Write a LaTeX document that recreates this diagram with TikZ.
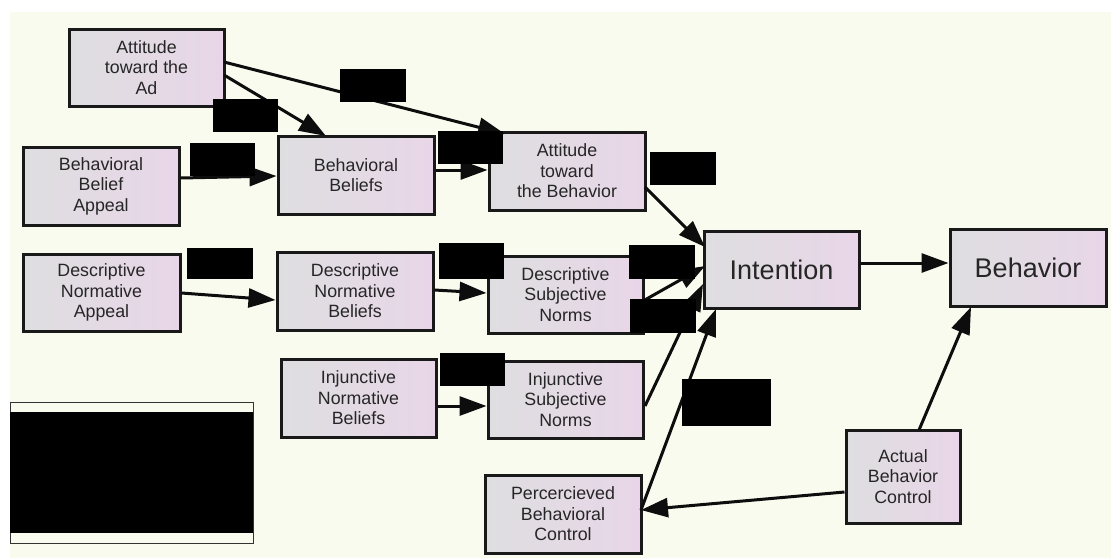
\documentclass[tikz,border=0pt]{standalone}
\usepackage{fontspec}
\setmainfont{Liberation Sans}
\usetikzlibrary{arrows.meta}
\definecolor{bgcream}{HTML}{FAFBEF}
\definecolor{boxleft}{HTML}{DEDEE0}
\definecolor{boxright}{HTML}{E8D6E8}
\definecolor{txt}{HTML}{262626}
\tikzset{
  box/.style={draw=black!90, line width=3pt, left color=boxleft, right color=boxright,
    minimum width=#1, inner sep=0pt, align=center, text=txt,
    font=\fontsize{17.8}{20.5}\selectfont},
  bigbox/.style={box=155pt, minimum height=77pt, font=\fontsize{27}{30}\selectfont},
  conn/.style={line width=3pt, draw=black!95, -{Triangle[length=27pt,width=19pt]}},
  redact/.style={fill=black, draw=none}
}
\begin{document}
\begin{tikzpicture}[x=1pt,y=-1pt]
\useasboundingbox (0,0) rectangle (1111,558);
\fill[white] (0,0) rectangle (1111,558);
\fill[bgcream] (10,12) rectangle (1111,558);

% nodes
\node[box=155pt, minimum height=77pt] (ad) at (146.5,67.5) {Attitude\\toward the\\Ad};
\node[box=156pt, minimum height=78pt] (bba) at (101,186) {Behavioral\\Belief\\Appeal};
\node[box=156pt, minimum height=78pt] (bb) at (356,175) {Behavioral\\Beliefs};
\node[box=156pt, minimum height=78pt] (atb) at (567,171) {Attitude\\toward\\the Behavior};
\node[box=157pt, minimum height=77pt] (dna) at (101.5,292.5) {Descriptive\\Normative\\Appeal};
\node[box=156pt, minimum height=78pt] (dnb) at (355,291) {Descriptive\\Normative\\Beliefs};
\node[box=155pt, minimum height=77pt] (dsn) at (565.5,294.5) {Descriptive\\Subjective\\Norms};
\node[box=155pt, minimum height=78pt] (inb) at (358.5,398) {Injunctive\\Normative\\Beliefs};
\node[box=155pt, minimum height=77pt] (isn) at (565.5,399.5) {Injunctive\\Subjective\\Norms};
\node[box=156pt, minimum height=78pt] (pbc) at (563,514) {Percercieved\\Behavioral\\Control};
\node[box=114pt, minimum height=93pt] (abc) at (903,476.5) {Actual\\Behavior\\Control};
\node[bigbox] (int) at (781.5,269.5) {Intention};
\node[bigbox, minimum width=156pt] (beh) at (1028,267.5) {Behavior};

% connector end coordinates
\coordinate (adA) at (224,75);
\coordinate (adB) at (224,62);
\coordinate (bbTop) at (326,136);
\coordinate (atbTop) at (505,134);
\coordinate (intL1) at (705,247);
\coordinate (intL2) at (705,266);
\coordinate (intL3) at (703,284);
\coordinate (intBL) at (716,309);
\coordinate (isnR) at (645,406);
\coordinate (pbcR) at (641,510);
\coordinate (abcT) at (919,430);
\coordinate (behB) at (971,307);
\coordinate (atbR) at (645,187);
\coordinate (dsnR) at (643,301);

% connectors
\draw[conn] (adA) -- (bbTop);
\draw[conn] (adB) -- (atbTop);
\draw[conn] (bba.east |- 0,178) -- (bb.west |- 0,176);
\draw[conn] (bb.east |- 0,170) -- (atb.west |- 0,170);
\draw[conn] (atbR) -- (intL1);
\draw[conn] (dna.east |- 0,293) -- (dnb.west |- 0,300);
\draw[conn] (dnb.east |- 0,290) -- (dsn.west |- 0,293);
\draw[conn] (dsnR) -- (intL2);
\draw[conn] (inb.east |- 0,406) -- (isn.west |- 0,406);
\draw[conn] (isnR) -- (intL3);
\draw[conn] (pbcR) -- (intBL);
\draw[conn] (abc.west |- 0,492) -- (pbcR);
\draw[conn] (abcT) -- (behB);
\draw[conn] (int.east |- 0,263) -- (beh.west |- 0,263);

% redaction boxes
\fill[redact] (340,69) rectangle (406,102);
\fill[redact] (213,99) rectangle (278,132);
\fill[redact] (190,143) rectangle (255,176);
\fill[redact] (438,131) rectangle (503,164);
\fill[redact] (650,152) rectangle (716,185);
\fill[redact] (187,248) rectangle (253,279);
\fill[redact] (439,243) rectangle (504,279);
\fill[redact] (629,245) rectangle (695,279);
\fill[redact] (630,299) rectangle (696,333);
\fill[redact] (440,353) rectangle (505,386);
\fill[redact] (682,379) rectangle (771,426);
% legend
\draw[line width=1pt, draw=black!80, fill=bgcream] (10,402.5) rectangle (253,543.5);
\fill[redact] (10,412) rectangle (253,533);
\end{tikzpicture}
\end{document}
